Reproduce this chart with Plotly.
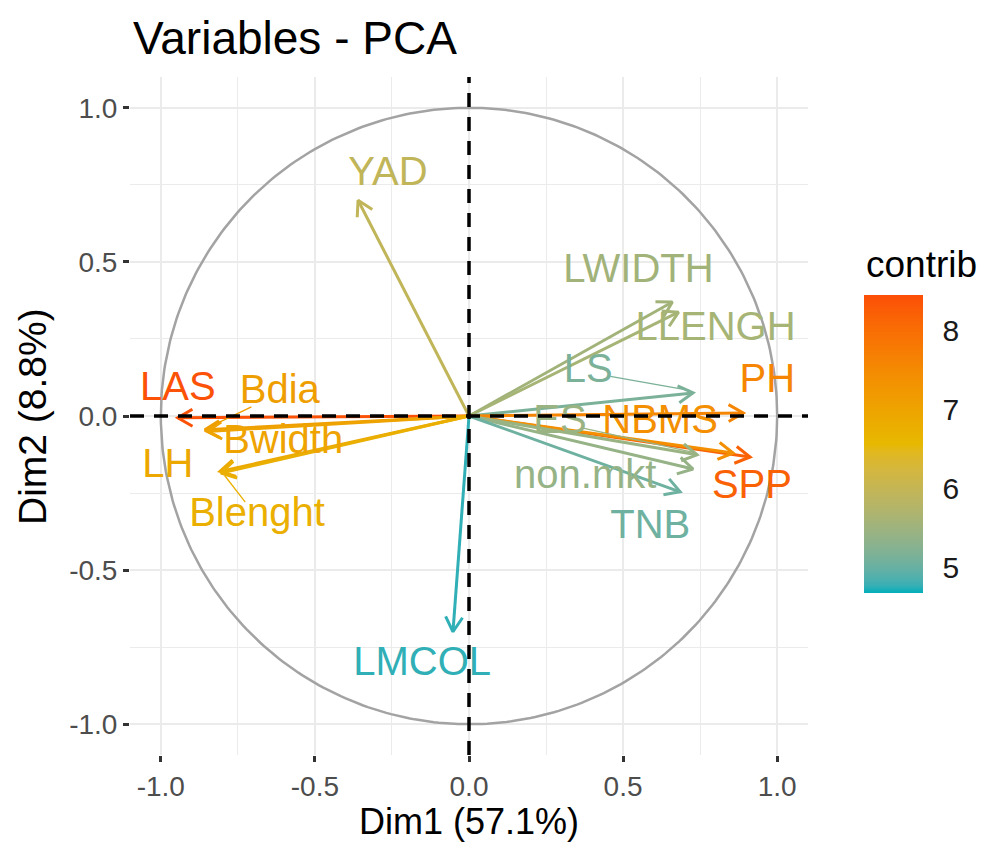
import numpy as np
import plotly.graph_objects as go

# ---------------- data ----------------
var_names = ["YAD", "LWIDTH", "LLENGH", "LS", "PH", "SPP", "NBMS", "ES",
             "non.mkt", "TNB", "LAS", "Bdia", "Bwidth", "LH", "Blenght", "LMCOL"]
dim1 = [-0.36, 0.66, 0.68, 0.727, 0.89, 0.912, 0.857, 0.74,
        0.727, 0.685, -0.945, -0.857, -0.85, -0.808, -0.805, -0.052]
dim2 = [0.70, 0.37, 0.337, 0.075, 0.01, -0.133, -0.12, -0.126,
        -0.172, -0.246, -0.006, -0.045, -0.05, -0.18, -0.185, -0.70]
contrib = [5.95, 5.55, 5.6, 5.15, 7.6, 8.2, 7.4, 5.45,
           5.4, 5.05, 8.4, 7.1, 7.0, 6.9, 6.75, 4.75]
x_ticks = [-1.0, -0.5, 0.0, 0.5, 1.0]
y_ticks = [-1.0, -0.5, 0.0, 0.5, 1.0]
cbar_ticks = [5, 6, 7, 8]
title_text = "Variables - PCA"
x_title = "Dim1 (57.1%)"
y_title = "Dim2 (8.8%)"
cbar_title = "contrib"

# ---------------- style / label placement ----------------
CMIN, CMAX = 4.68, 8.45
grad_cols = ["#00AFBB", "#E7B800", "#FC4E07"]
FONT = "Liberation Sans, Arial, Helvetica, sans-serif"
LABEL_SIZE = 40
label_offsets = {
    "YAD": (0.097, 0.081), "LWIDTH": (-0.11, 0.097), "LLENGH": (0.12, -0.058),
    "LS": (-0.34, 0.068), "PH": (0.078, 0.10), "SPP": (0.006, -0.10),
    "NBMS": (-0.237, 0.097), "ES": (-0.445, 0.104), "non.mkt": (-0.35, -0.03),
    "TNB": (-0.097, -0.117), "LAS": (0.0, 0.09), "Bdia": (0.243, 0.12),
    "Bwidth": (0.247, -0.036), "LH": (-0.169, 0.013), "Blenght": (0.117, -0.14),
    "LMCOL": (-0.10, -0.107),
}
segment_labels = {"LS", "ES", "Bdia", "Blenght"}


# ---- CIELAB colour interpolation (as ggplot's gradient_n_pal) ----
def hex_to_rgb(h):
    h = h.lstrip("#")
    return np.array([int(h[i:i + 2], 16) / 255 for i in (0, 2, 4)])


M = np.array([[0.4124564, 0.3575761, 0.1804375],
              [0.2126729, 0.7151522, 0.0721750],
              [0.0193339, 0.1191920, 0.9503041]])
WHITE = np.array([0.95047, 1.0, 1.08883])


def rgb_to_lab(rgb):
    lin = np.where(rgb <= 0.04045, rgb / 12.92, ((rgb + 0.055) / 1.055) ** 2.4)
    xyz = M @ lin / WHITE
    f = np.where(xyz > 216 / 24389, np.cbrt(xyz), (24389 / 27 * xyz + 16) / 116)
    return np.array([116 * f[1] - 16, 500 * (f[0] - f[1]), 200 * (f[1] - f[2])])


def lab_to_rgb(lab):
    fy = (lab[0] + 16) / 116
    fx = fy + lab[1] / 500
    fz = fy - lab[2] / 200
    f = np.array([fx, fy, fz])
    xyz = np.where(f ** 3 > 216 / 24389, f ** 3, (116 * f - 16) / (24389 / 27)) * WHITE
    lin = np.linalg.inv(M) @ xyz
    lin = np.clip(lin, 0, 1)
    rgb = np.where(lin <= 0.0031308, 12.92 * lin, 1.055 * lin ** (1 / 2.4) - 0.055)
    return np.clip(rgb, 0, 1)


labs = [rgb_to_lab(hex_to_rgb(c)) for c in grad_cols]


def lab_colour(t):
    t = min(max(t, 0.0), 1.0)
    seg = min(int(t * 2), 1)
    u = t * 2 - seg
    lab = labs[seg] * (1 - u) + labs[seg + 1] * u
    r, g, b = (lab_to_rgb(lab) * 255).round().astype(int)
    return f"rgb({r},{g},{b})"


colorscale = [[s, lab_colour(s)] for s in np.linspace(0, 1, 41)]
colors = [lab_colour((c - CMIN) / (CMAX - CMIN)) for c in contrib]

fig = go.Figure()

# correlation circle
t = np.linspace(0, 2 * np.pi, 400)
fig.add_trace(go.Scatter(x=np.cos(t), y=np.sin(t), mode="lines",
                         line=dict(color="#A3A3A3", width=2.5),
                         hoverinfo="skip", showlegend=False))

# arrows
HEAD = 0.055
for name, x, y, col in zip(var_names, dim1, dim2, colors):
    ang = np.arctan2(y, x)
    w1 = (x - HEAD * np.cos(ang + np.pi / 6), y - HEAD * np.sin(ang + np.pi / 6))
    w2 = (x - HEAD * np.cos(ang - np.pi / 6), y - HEAD * np.sin(ang - np.pi / 6))
    fig.add_trace(go.Scatter(
        x=[0, x, None, w1[0], x, w2[0]],
        y=[0, y, None, w1[1], y, w2[1]],
        mode="lines", line=dict(color=col, width=3),
        hoverinfo="skip", showlegend=False))

# repel segments and labels
lx, ly = [], []
for name, x, y, col in zip(var_names, dim1, dim2, colors):
    ox, oy = label_offsets[name]
    cx, cy = x + ox, y + oy
    lx.append(cx)
    ly.append(cy)
    if name in segment_labels:
        hw = len(name) * 0.55 * LABEL_SIZE / 2 / 308
        hh = 0.7 * LABEL_SIZE / 2 / 308
        dx, dy = x - cx, y - cy
        tt = min(hw / abs(dx) if dx else 1e9, hh / abs(dy) if dy else 1e9)
        sx, sy = cx + tt * dx, cy + tt * dy
        fig.add_trace(go.Scatter(x=[sx, x - 0.012 * np.sign(dx)], y=[sy, y - 0.008 * np.sign(dy)],
                                 mode="lines", line=dict(color=col, width=1.3),
                                 hoverinfo="skip", showlegend=False))

fig.add_trace(go.Scatter(x=lx, y=ly, mode="text", text=var_names,
                         textposition="middle center",
                         textfont=dict(family=FONT, size=LABEL_SIZE, color=colors),
                         hoverinfo="skip", showlegend=False))

# dashed reference lines
for xs, ys in (([-1.1, 1.1], [0, 0]), ([0, 0], [-1.1, 1.1])):
    fig.add_trace(go.Scatter(x=xs, y=ys, mode="lines",
                             line=dict(color="black", width=3.5, dash="14px,10px"),
                             hoverinfo="skip", showlegend=False))

# colorbar carrier
BAR_LEFT, BAR_TOP, BAR_BOTTOM, BAR_W = 864, 295, 593, 59
PANEL_L, PANEL_B, PANEL = 130, 755, 678
bar_len = BAR_BOTTOM - BAR_TOP
fig.add_trace(go.Scatter(
    x=dim1, y=dim2, mode="markers",
    marker=dict(size=0.1, opacity=0, color=contrib, colorscale=colorscale,
                cmin=CMIN, cmax=CMAX, showscale=True,
                colorbar=dict(
                    tickvals=cbar_ticks, ticktext=[str(v) for v in cbar_ticks],
                    ticks="outside", ticklen=14, tickwidth=1, tickcolor="rgba(0,0,0,0)",
                    tickfont=dict(family=FONT, size=30, color="#1A1A1A"),
                    thickness=BAR_W, thicknessmode="pixels",
                    len=bar_len, lenmode="pixels",
                    x=(BAR_LEFT - PANEL_L) / PANEL, xanchor="left",
                    y=(PANEL_B - (BAR_TOP + BAR_BOTTOM) / 2) / PANEL, yanchor="middle",
                    outlinewidth=0, xpad=0, ypad=0,
                )),
    hoverinfo="skip", showlegend=False))

# white inner tick marks on the colour bar (both sides, ggplot style)
shapes = []
for v in cbar_ticks:
    yp = BAR_BOTTOM - (v - CMIN) / (CMAX - CMIN) * bar_len
    for x0, x1 in ((BAR_LEFT, BAR_LEFT + 11), (BAR_LEFT + BAR_W - 11, BAR_LEFT + BAR_W)):
        shapes.append(dict(type="line", xref="paper", yref="paper",
                           x0=(x0 - PANEL_L) / PANEL, x1=(x1 - PANEL_L) / PANEL,
                           y0=(PANEL_B - yp) / PANEL, y1=(PANEL_B - yp) / PANEL,
                           line=dict(color="white", width=2), layer="above"))

axis_common = dict(
    range=[-1.1, 1.1], showgrid=True, gridcolor="#EBEBEB", gridwidth=2,
    zeroline=False, showline=False,
    ticks="outside", ticklen=6, tickwidth=2.5, tickcolor="#333333",
    tickfont=dict(family=FONT, size=28, color="#4D4D4D"),
    minor=dict(dtick=0.25, tick0=0, showgrid=True, gridcolor="#EBEBEB", gridwidth=1, ticks=""),
    fixedrange=True,
)
fig.update_layout(
    width=993, height=844,
    margin=dict(l=PANEL_L, r=993 - PANEL_L - PANEL, t=PANEL_B - PANEL, b=844 - PANEL_B, autoexpand=False),
    paper_bgcolor="white", plot_bgcolor="white",
    font=dict(family=FONT),
    xaxis=dict(tickvals=x_ticks, ticktext=[f"{v:.1f}" for v in x_ticks], **axis_common),
    yaxis=dict(tickvals=y_ticks, ticktext=[f"{v:.1f}" for v in y_ticks], **axis_common),
    title=dict(text=title_text, x=133 / 993, xref="container", xanchor="left",
               y=1 - 38 / 844, yref="container", yanchor="middle",
               font=dict(family=FONT, size=46, color="black")),
    shapes=shapes,
    annotations=[
        dict(text=x_title, xref="paper", yref="paper", x=0.5, y=-(821 - PANEL_B) / PANEL,
             xanchor="center", yanchor="middle", showarrow=False,
             font=dict(family=FONT, size=36, color="black")),
        dict(text=y_title, xref="paper", yref="paper", x=(32 - PANEL_L) / PANEL, y=0.5,
             xanchor="center", yanchor="middle", showarrow=False, textangle=-90,
             font=dict(family=FONT, size=39, color="black")),
        dict(text=cbar_title, xref="paper", yref="paper",
             x=(BAR_LEFT - PANEL_L) / PANEL, y=(PANEL_B - 264) / PANEL,
             xanchor="left", yanchor="middle", showarrow=False,
             font=dict(family=FONT, size=37, color="black")),
    ],
)

fig.write_html("out.html")
